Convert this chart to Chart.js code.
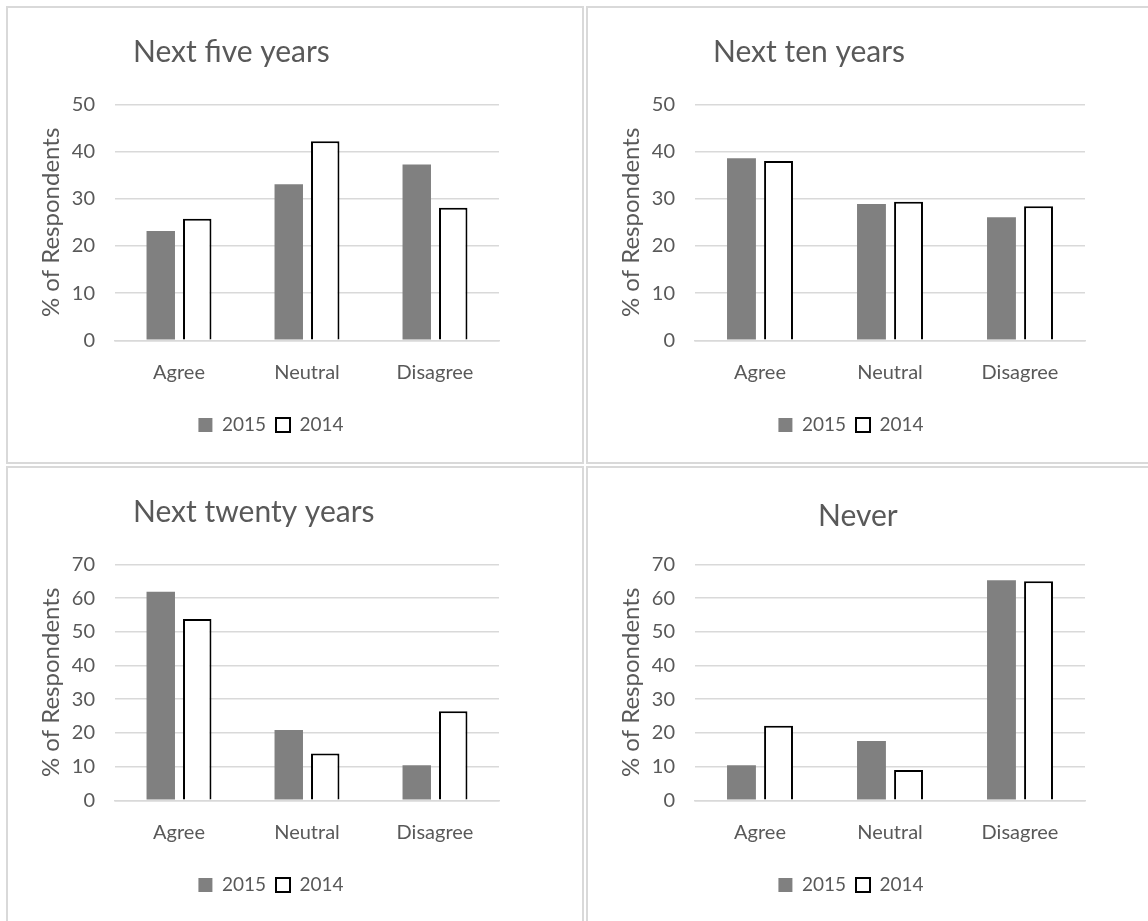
<!doctype html>
<html lang="en">
<head>
  <meta charset="utf-8" />
  <title>Survey by time horizon</title>
  <style>
    html, body { margin: 0; padding: 0; background: #fff; overflow: hidden; }
    body { width: 1148px; height: 921px; position: relative; }
    .panel { position: absolute; width: 578px; height: 458px; border: 2px solid #d9d9d9; box-sizing: border-box; }
    .panel canvas { position: absolute; left: 0; top: 0; }
  </style>
</head>
<body>
  <div class="panel" style="left:6px; top:6px;"><canvas id="five" width="574" height="454"></canvas></div>
  <div class="panel" style="left:586px; top:6px;"><canvas id="ten" width="574" height="454"></canvas></div>
  <div class="panel" style="left:6px; top:466px;"><canvas id="twenty" width="574" height="454"></canvas></div>
  <div class="panel" style="left:586px; top:466px;"><canvas id="never" width="574" height="454"></canvas></div>

  <script src="https://cdn.jsdelivr.net/npm/chart.js"></script>
  <script>
    // values (% of respondents)
    const categories = ['Agree', 'Neutral', 'Disagree'];
    const yearLabels = ['2015', '2014'];

    const five2015 = [23.2, 33.1, 37.3];
    const five2014 = [25.8, 42.2, 28.1];
    const ten2015 = [38.6, 28.9, 26.1];
    const ten2014 = [38.0, 29.4, 28.4];
    const twenty2015 = [61.9, 20.9, 10.4];
    const twenty2014 = [53.8, 13.9, 26.4];
    const never2015 = [10.4, 17.6, 65.3];
    const never2014 = [22.1, 9.0, 65.0];

    const axisTitle = '% of Respondents';
    const tickStep = 10;

    const grey = '#595959';
    const gridGrey = '#d9d9d9';
    Chart.defaults.font.family = 'Lato';
    Chart.defaults.color = grey;

    // move title / legend horizontally after layout (the original places them off-centre)
    const shiftBoxes = {
      id: 'shiftBoxes',
      afterLayout(chart, args, opts) {
        const t = chart.titleBlock;
        if (t && opts.titleX != null) {
          const w = t.right - t.left;
          t.left = opts.titleX;
          t.right = opts.titleX + w;
        }
        const l = chart.legend;
        if (l && opts.legendCenter != null) {
          const dx = opts.legendCenter - (l.left + l.right) / 2;
          l.left += dx;
          l.right += dx;
        }
      }
    };

    function makeChart(id, title, d2015, d2014, yMax, o) {
      return new Chart(document.getElementById(id), {
        type: 'bar',
        data: {
          labels: categories,
          datasets: [
            {
              label: yearLabels[0],
              data: d2015,
              backgroundColor: '#808080',
              borderWidth: 0,
              categoryPercentage: 0.57,
              barPercentage: 0.78
            },
            {
              label: yearLabels[1],
              data: d2014,
              backgroundColor: '#ffffff',
              borderColor: '#000000',
              borderWidth: 2,
              categoryPercentage: 0.57,
              barPercentage: 0.78
            }
          ]
        },
        options: {
          responsive: false,
          animation: false,
          layout: { padding: { top: 0, left: 0, right: o.right, bottom: 17.5 } },
          scales: {
            x: {
              z: 1,
              grid: { display: false, drawTicks: false },
              border: { display: true, color: gridGrey, width: 1.5 },
              ticks: { color: grey, font: { size: 20 }, padding: 20 },
              afterFit: s => { s.height = 65.2; }
            },
            y: {
              min: 0,
              max: yMax,
              ticks: { stepSize: tickStep, color: grey, font: { size: 20 }, padding: 20 },
              grid: { color: gridGrey, lineWidth: 1.5, drawTicks: false },
              border: { display: false },
              title: {
                display: true,
                text: axisTitle,
                color: grey,
                font: { size: 24 },
                padding: { top: 29, bottom: 0 }
              },
              afterFit: s => { s.width = 107; }
            }
          },
          plugins: {
            title: {
              display: true,
              text: title,
              align: 'start',
              color: grey,
              font: { size: 30, weight: 'normal' },
              padding: { top: o.titleTop, bottom: o.titleBottom }
            },
            legend: {
              position: 'bottom',
              labels: {
                boxWidth: 14,
                boxHeight: 14,
                padding: 10,
                color: grey,
                font: { size: 19 }
              }
            },
            tooltip: { enabled: false },
            shiftBoxes: { titleX: o.titleX, legendCenter: 263 }
          }
        },
        plugins: [shiftBoxes]
      });
    }

    makeChart('five', 'Next five years', five2015, five2014, 50,
      { right: 83, titleX: 125, titleTop: 26, titleBottom: 34.5 });
    makeChart('ten', 'Next ten years', ten2015, ten2014, 50,
      { right: 77, titleX: 125, titleTop: 26, titleBottom: 34.5 });
    makeChart('twenty', 'Next twenty years', twenty2015, twenty2014, 70,
      { right: 83, titleX: 125, titleTop: 26, titleBottom: 34.5 });
    makeChart('never', 'Never', never2015, never2014, 70,
      { right: 77, titleX: 230, titleTop: 30.5, titleBottom: 30 });
  </script>
</body>
</html>
